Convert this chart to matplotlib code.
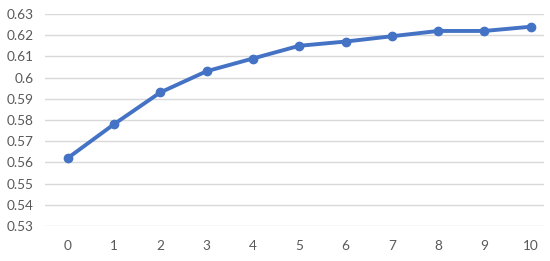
import matplotlib
matplotlib.use('Agg')
import matplotlib.pyplot as plt

x_labels = ['0', '1', '2', '3', '4', '5', '6', '7', '8', '9', '10']
values = [0.562, 0.578, 0.593, 0.603, 0.609, 0.615, 0.617, 0.6195, 0.622, 0.622, 0.624]
y_ticks = [0.53, 0.54, 0.55, 0.56, 0.57, 0.58, 0.59, 0.6, 0.61, 0.62, 0.63]
y_tick_labels = ['0.53', '0.54', '0.55', '0.56', '0.57', '0.58', '0.59', '0.6', '0.61', '0.62', '0.63']

plt.rcParams['font.family'] = ['Lato', 'DejaVu Sans']

fig = plt.figure(figsize=(5.5, 2.61), dpi=100)
ax = fig.add_axes([44.5 / 550, 35 / 261, (543.7 - 44.5) / 550, 212 / 261])

pos = list(range(len(x_labels)))
ax.plot(pos, values, color='#4472C4', linewidth=2.8, marker='o', markersize=6,
        solid_capstyle='round', zorder=3, clip_on=False)

ax.set_ylim(0.53, 0.63)
ax.set_xlim(-0.5, 10.28)
ax.set_yticks(y_ticks)
ax.set_yticklabels(y_tick_labels)
ax.set_xticks(pos)
ax.set_xticklabels(x_labels)
ax.grid(axis='y', color='#D9D9D9', linewidth=1.0)
ax.set_axisbelow(True)
for s in ax.spines.values():
    s.set_visible(False)
ax.tick_params(length=0, labelsize=9.8, colors='#595959', pad=8)
ax.tick_params(axis='x', pad=10)

fig.savefig('out.png', dpi=100)
